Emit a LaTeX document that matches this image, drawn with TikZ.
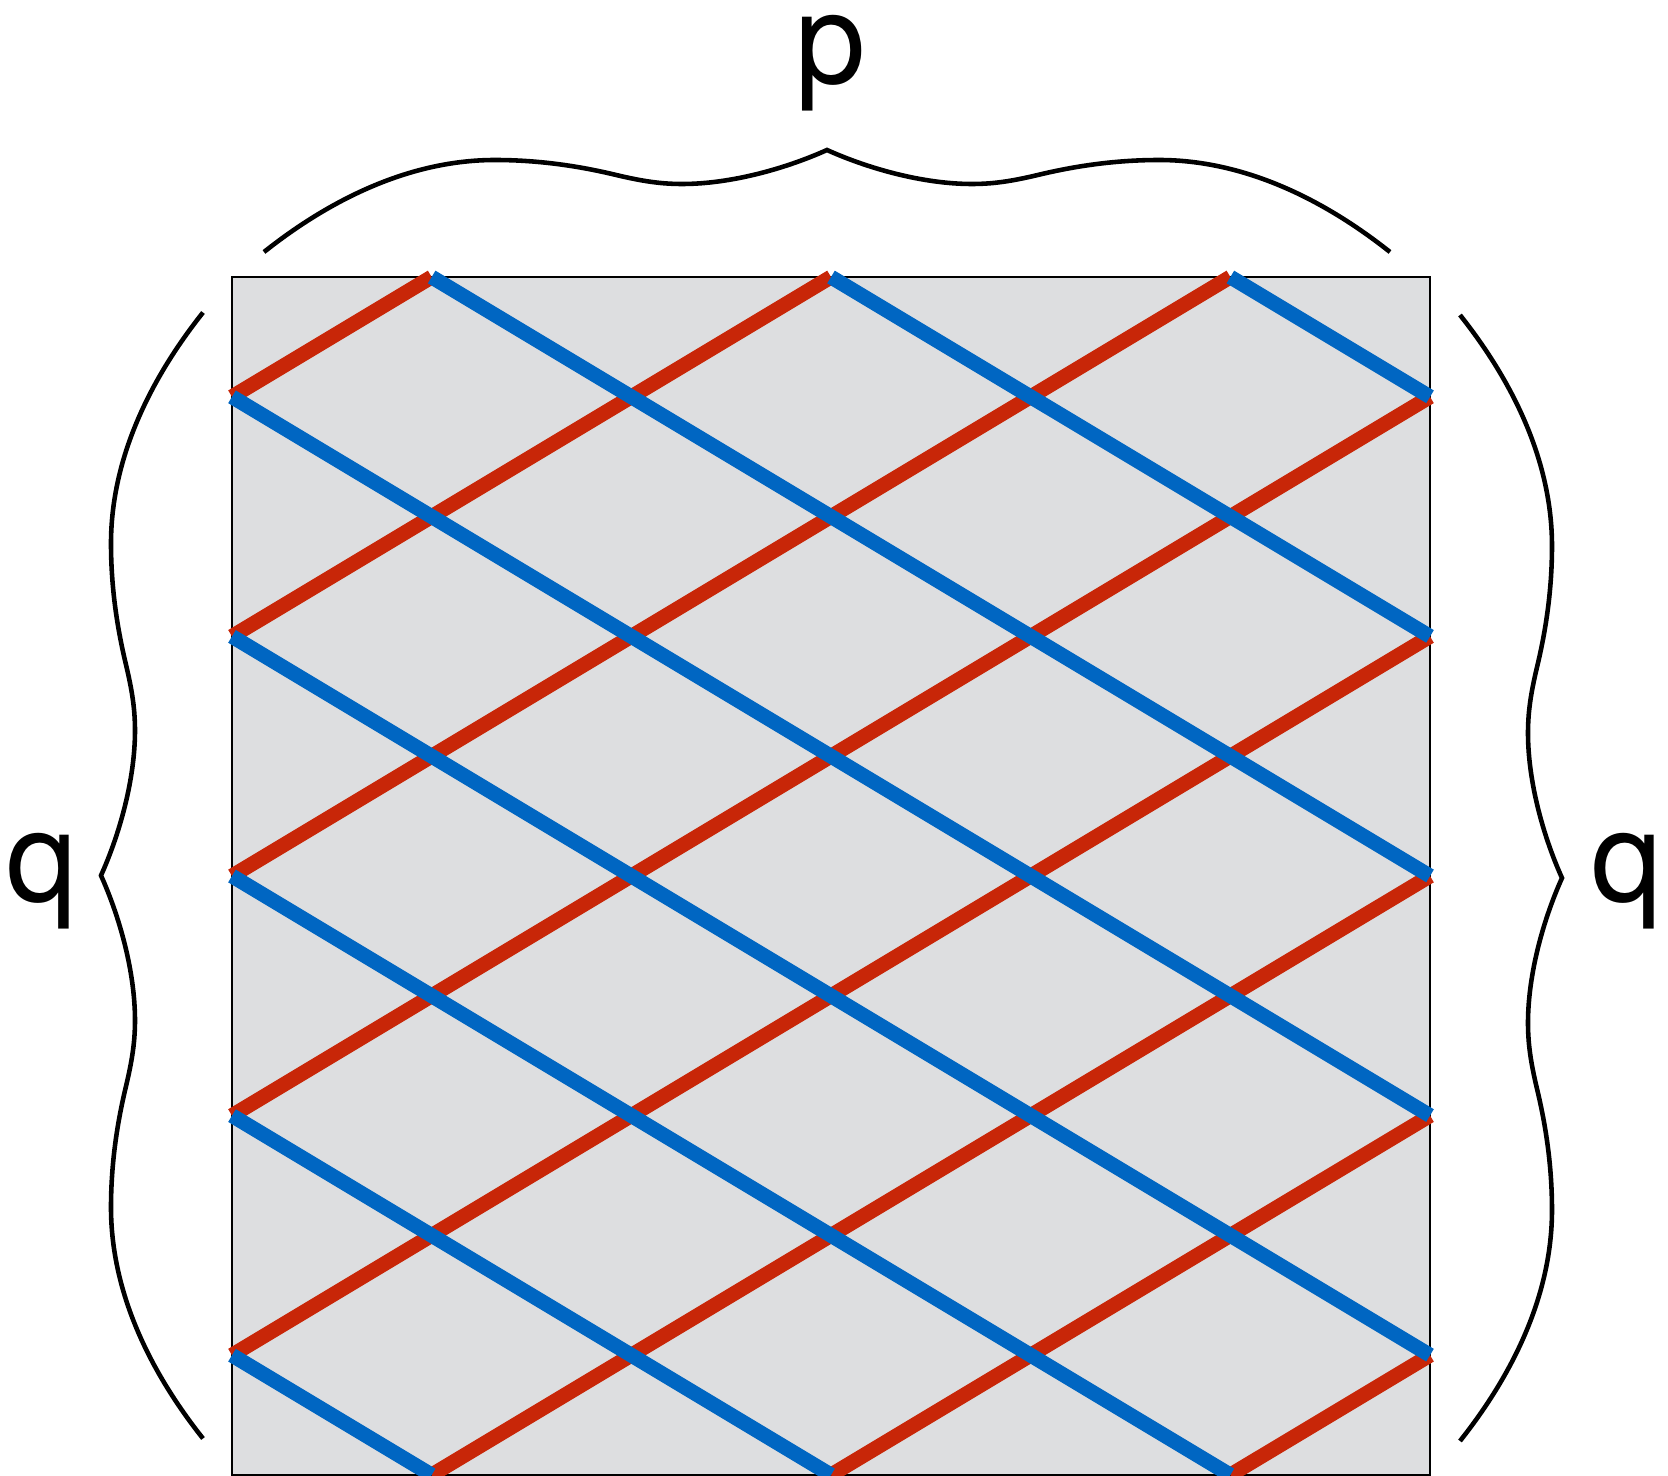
\documentclass[tikz,border=0pt]{standalone}
\usepackage{fontspec}
\setmainfont{TeX Gyre Heros}
\usepackage{xcolor}
\usepackage{tikz}
\definecolor{knotred}{RGB}{200,38,8}
\definecolor{knotblue}{RGB}{0,102,194}
\definecolor{tilegray}{RGB}{221,222,224}

\tikzset{
  qbrace/.pic={
    \draw[brc] (-563,0) .. controls (-500,-50) and (-420,-92) .. (-332,-92)
      .. controls (-285,-92) and (-245,-85) .. (-215,-78)
      .. controls (-190,-72) and (-170,-68) .. (-145,-68)
      .. controls (-95,-68) and (-40,-84) .. (0,-102)
      .. controls (40,-84) and (95,-68) .. (145,-68)
      .. controls (170,-68) and (190,-72) .. (215,-78)
      .. controls (245,-85) and (285,-92) .. (332,-92)
      .. controls (420,-92) and (500,-50) .. (563,0);
  }
}

\begin{document}
\begin{tikzpicture}[
  x=0.01cm, y=-0.01cm,
  tile/.style={draw=black, fill=tilegray, line width=0.6pt},
  redstrand/.style={draw=knotred, line width=4.2pt},
  bluestrand/.style={draw=knotblue, line width=4.2pt},
  brc/.style={draw=black, line width=1.3pt},
  lbl/.style={font=\fontsize{36}{40}\selectfont, inner sep=0pt, text height=1.5ex, anchor=base}
]
\useasboundingbox (0,0) rectangle (1668,1476);

% square
\draw[tile] (232,277) rectangle (1430,1475);

% strands
\begin{scope}[shift={(232,277)}, xscale=199.67, yscale=119.8]
  \foreach \a/\b/\c/\d in {0/1/1/0, 0/3/3/0, 0/5/5/0, 0/7/6/1,
                           0/9/6/3, 1/10/6/5, 3/10/6/7, 5/10/6/9}
    \draw[redstrand] (\a,\b) -- (\c,\d);
  \foreach \a/\b/\c/\d in {5/0/6/1, 3/0/6/3, 1/0/6/5, 0/1/6/7,
                           0/3/6/9, 0/5/5/10, 0/7/3/10, 0/9/1/10}
    \draw[bluestrand] (\a,\b) -- (\c,\d);
\end{scope}

% braces
\pic (ptop) at (827,252) {qbrace};
\pic[rotate=90] (qleft) at (203,875.5) {qbrace};
\pic[rotate=-90] (qright) at (1460,878) {qbrace};

% labels
\node[lbl] (plbl) at (831,84) {p};
\node[lbl] (qlbl1) at (42,902) {q};
\node[lbl] (qlbl2) at (1627,902) {q};
\end{tikzpicture}
\end{document}
